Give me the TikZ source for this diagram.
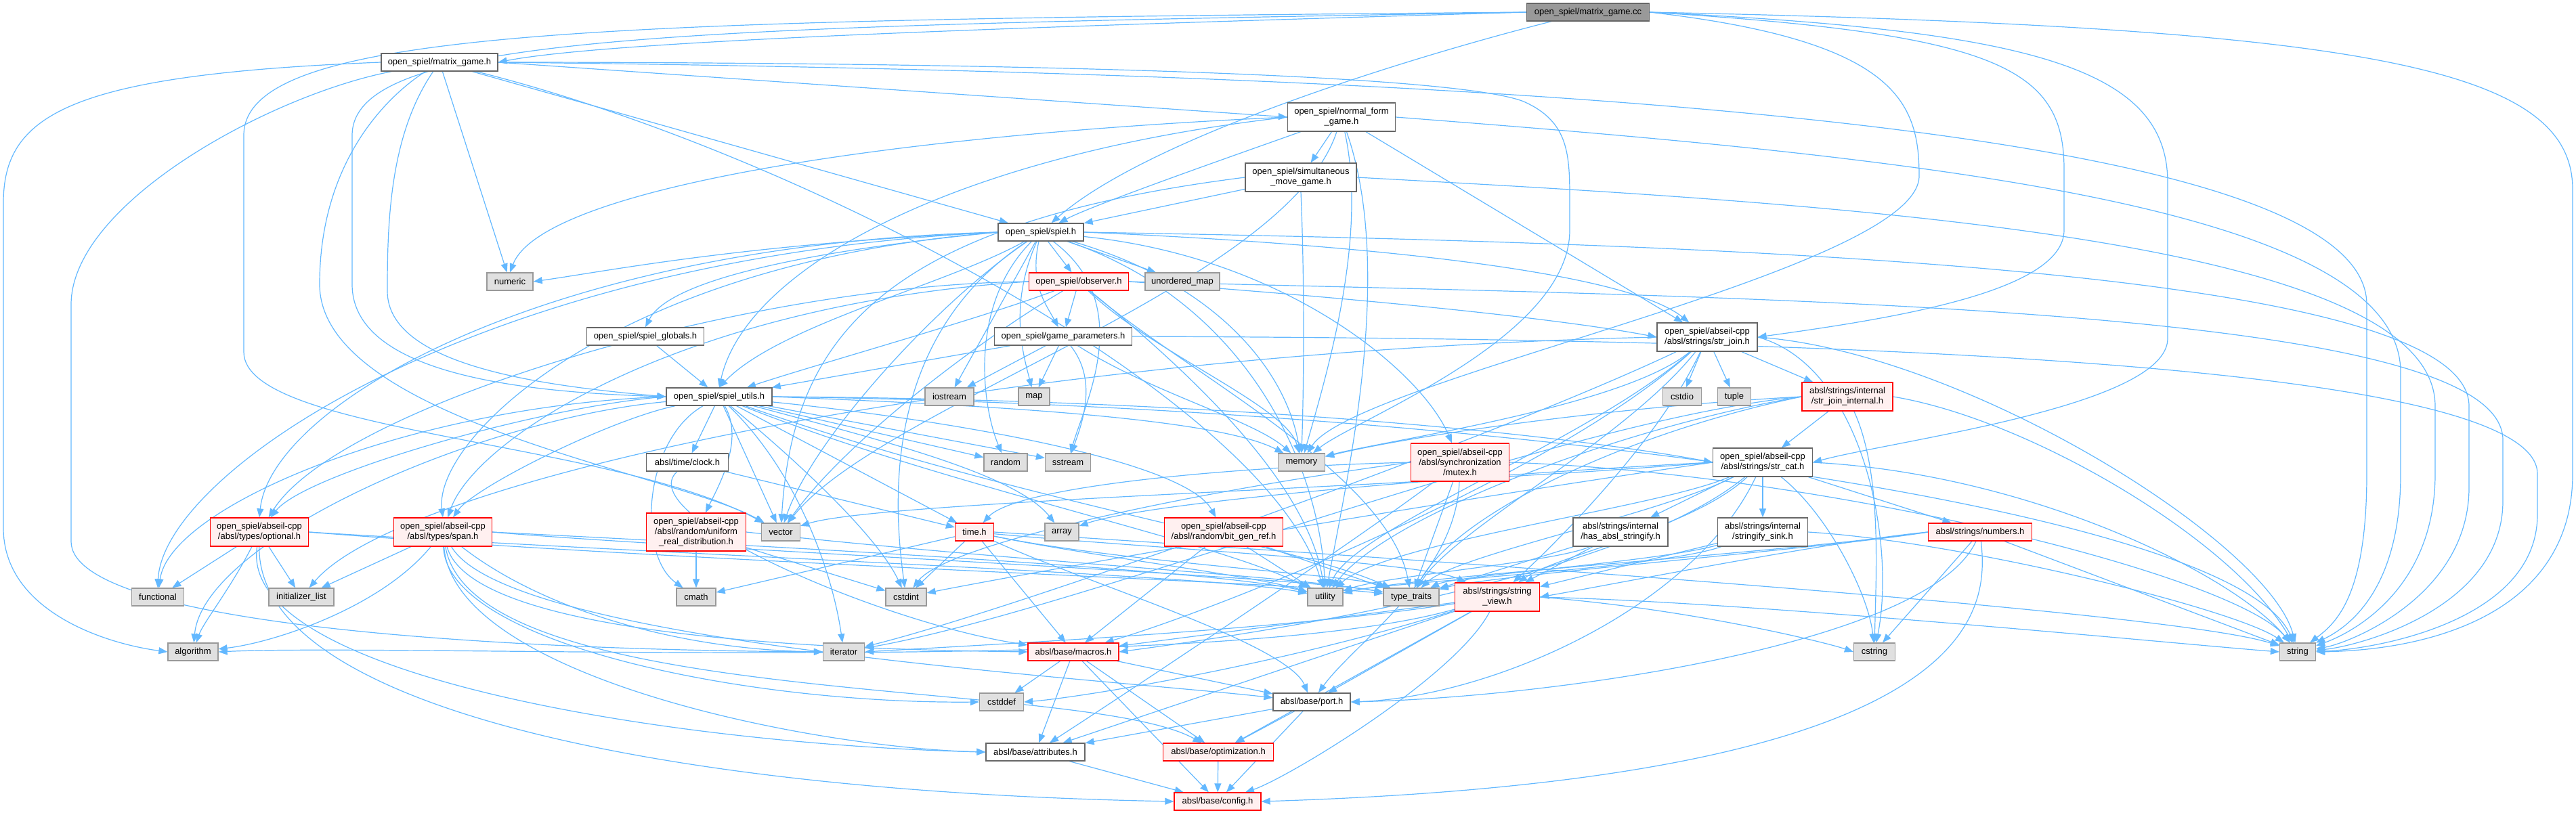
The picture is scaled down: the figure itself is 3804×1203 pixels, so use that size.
\documentclass[tikz,border=0pt]{standalone}
\usepackage{fontspec}
\setmainfont{Liberation Sans}
\usetikzlibrary{arrows.meta}
\definecolor{edgecol}{HTML}{63B8FF}
\definecolor{docborder}{HTML}{666666}
\definecolor{sysfill}{HTML}{E0E0E0}
\definecolor{sysborder}{HTML}{999999}
\definecolor{redfill}{HTML}{FFF0F0}
\definecolor{redborder}{HTML}{FF0000}
\definecolor{rootfill}{HTML}{999999}
\pgfdeclarelayer{bg}
\pgfsetlayers{bg,main}
\tikzset{
 base/.style={draw, line width=1.3pt, inner xsep=4pt, inner ysep=0pt, minimum height=26pt, align=center, font=\fontsize{13}{15}\selectfont},
 doc/.style={base, fill=white, draw=docborder},
 sys/.style={base, fill=sysfill, draw=sysborder},
 trunc/.style={base, fill=redfill, draw=redborder},
 rootnode/.style={base, fill=rootfill, draw=docborder},
 edge/.style={draw=edgecol, line width=1.2pt, -{Triangle[length=13pt,width=10pt]}},
}
\begin{document}
\begin{tikzpicture}[x=1pt,y=-1pt]
\useasboundingbox (0,0) rectangle (3804,1203);
% nodes
\node[rootnode, minimum width=181pt] (mgcc) at (2345,18) {open\_spiel/matrix\_game.cc};
\node[doc, minimum width=172pt] (mgh) at (649,92) {open\_spiel/matrix\_game.h};
\node[doc, minimum width=159pt, minimum height=42pt] (nfg) at (1981,173) {open\_spiel/normal\_form\\\_game.h};
\node[doc, minimum width=164pt, minimum height=42pt] (sim) at (1921,262) {open\_spiel/simultaneous\\\_move\_game.h};
\node[doc, minimum width=126pt] (spiel) at (1537,343) {open\_spiel/spiel.h};
\node[sys, minimum width=68pt] (numeric) at (753,416) {numeric};
\node[trunc, minimum width=147pt] (observer) at (1593,416) {open\_spiel/observer.h};
\node[sys, minimum width=110pt] (umap) at (1746,416) {unordered\_map};
\node[doc, minimum width=173pt] (globals) at (953,497) {open\_spiel/spiel\_globals.h};
\node[doc, minimum width=203pt] (gp) at (1570,497) {open\_spiel/game\_parameters.h};
\node[doc, minimum width=148pt, minimum height=42pt] (strjoin) at (2521,498) {open\_spiel/abseil-cpp\\/absl/strings/str\_join.h};
\node[doc, minimum width=156pt] (utils) at (1062,586) {open\_spiel/spiel\_utils.h};
\node[sys, minimum width=72pt] (iostream) at (1402,586) {iostream};
\node[sys, minimum width=46pt] (map) at (1527,586) {map};
\node[sys, minimum width=57pt] (cstdio) at (2484,586) {cstdio};
\node[sys, minimum width=49pt] (tuple) at (2561,586) {tuple};
\node[trunc, minimum width=134pt, minimum height=42pt] (sji) at (2728,586) {absl/strings/internal\\/str\_join\_internal.h};
\node[doc, minimum width=121pt] (clock) at (1015,683) {absl/time/clock.h};
\node[sys, minimum width=64pt] (random) at (1485,683) {random};
\node[sys, minimum width=67pt] (sstream) at (1577,683) {sstream};
\node[sys, minimum width=69pt] (memory) at (1922,683) {memory};
\node[trunc, minimum width=145pt, minimum height=56pt] (mutex) at (2156,683) {open\_spiel/abseil-cpp\\/absl/synchronization\\/mutex.h};
\node[doc, minimum width=147pt, minimum height=42pt] (strcat) at (2603,683) {open\_spiel/abseil-cpp\\/absl/strings/str\_cat.h};
\node[trunc, minimum width=145pt, minimum height=42pt] (optional) at (383,786) {open\_spiel/abseil-cpp\\/absl/types/optional.h};
\node[trunc, minimum width=145pt, minimum height=42pt] (span) at (654,786) {open\_spiel/abseil-cpp\\/absl/types/span.h};
\node[trunc, minimum width=147pt, minimum height=56pt] (uniform) at (1028,786) {open\_spiel/abseil-cpp\\/absl/random/uniform\\\_real\_distribution.h};
\node[sys, minimum width=57pt] (vector) at (1153,786) {vector};
\node[trunc, minimum width=57pt] (timeh) at (1439,786) {time.h};
\node[sys, minimum width=50pt] (array) at (1568,786) {array};
\node[trunc, minimum width=175pt, minimum height=42pt] (bitgen) at (1807,786) {open\_spiel/abseil-cpp\\/absl/random/bit\_gen\_ref.h};
\node[doc, minimum width=140pt, minimum height=42pt] (hasstr) at (2393,786) {absl/strings/internal\\/has\_absl\_stringify.h};
\node[doc, minimum width=133pt, minimum height=42pt] (sink) at (2603,786) {absl/strings/internal\\/stringify\_sink.h};
\node[trunc, minimum width=153pt] (numbers) at (2924,786) {absl/strings/numbers.h};
\node[sys, minimum width=77pt] (functional) at (233,882) {functional};
\node[sys, minimum width=96pt] (initlist) at (445,882) {initializer\_list};
\node[sys, minimum width=58pt] (cmath) at (1028,882) {cmath};
\node[sys, minimum width=60pt] (cstdint) at (1338,882) {cstdint};
\node[sys, minimum width=52pt] (utility) at (1957,882) {utility};
\node[sys, minimum width=82pt] (typetraits) at (2084,882) {type\_traits};
\node[trunc, minimum width=125pt, minimum height=42pt] (strview) at (2211,882) {absl/strings/string\\\_view.h};
\node[sys, minimum width=74pt] (algorithm) at (285,963) {algorithm};
\node[sys, minimum width=61pt] (iterator) at (1246,963) {iterator};
\node[trunc, minimum width=134pt] (macros) at (1585,963) {absl/base/macros.h};
\node[sys, minimum width=61pt] (cstring) at (2768,963) {cstring};
\node[sys, minimum width=53pt] (string) at (3393,963) {string};
\node[sys, minimum width=65pt] (cstddef) at (1479,1037) {cstddef};
\node[doc, minimum width=114pt] (port) at (1937,1037) {absl/base/port.h};
\node[doc, minimum width=146pt] (attributes) at (1529,1111) {absl/base/attributes.h};
\node[trunc, minimum width=163pt] (optim) at (1799,1111) {absl/base/optimization.h};
\node[trunc, minimum width=128pt] (config) at (1798,1184) {absl/base/config.h};
% edges
\begin{pgfonlayer}{bg}
% matrix_game.cc
\draw[edge] (mgcc.west) .. controls (1500,40) and (900,60) .. (mgh.east);
\draw[edge] (mgcc) .. controls (2100,80) and (1700,200) .. (spiel);
\draw[edge] (mgcc.west) .. controls (1000,40) and (520,50) .. (520,200) -- (520,420) .. controls (520,560) and (800,580) .. (utils.west);
\draw[edge] (mgcc.west) .. controls (900,30) and (360,40) .. (360,200) -- (360,520) .. controls (360,640) and (900,650) .. (vector);
\draw[edge] (mgcc.east) .. controls (2800,60) and (2834,150) .. (2834,260) .. controls (2834,400) and (2000,560) .. (memory);
\draw[edge] (mgcc.east) .. controls (2950,50) and (3048,100) .. (3048,250) -- (3048,340) .. controls (3048,430) and (2800,470) .. (strjoin.east);
\draw[edge] (mgcc.east) .. controls (3000,45) and (3201,100) .. (3201,270) -- (3201,500) .. controls (3201,600) and (2800,650) .. (strcat.east);
\draw[edge] (mgcc.east) .. controls (3500,40) and (3799,100) .. (3799,280) -- (3799,700) .. controls (3799,900) and (3600,960) .. (string.east);
% matrix_game.h
\draw[edge] (mgh.west) .. controls (100,110) and (5,170) .. (5,300) -- (5,780) .. controls (5,900) and (150,950) .. (algorithm.west);
\draw[edge] (mgh) .. controls (400,140) and (105,300) .. (105,450) -- (105,800) .. controls (105,920) and (700,960) .. (iterator.west);
\draw[edge] (mgh) -- (numeric);
\draw[edge] (mgh) -- (spiel);
\draw[edge] (mgh) .. controls (575,200) and (572,330) .. (572,430) .. controls (572,540) and (800,570) .. (utils.west);
\draw[edge] (mgh) .. controls (560,150) and (472,250) .. (472,420) .. controls (472,620) and (1000,700) .. (vector);
\draw[edge] (mgh.east) -- (nfg.west);
\draw[edge] (mgh.east) .. controls (1500,92) and (2150,110) .. (2250,150) .. controls (2318,180) and (2318,230) .. (2318,300) -- (2318,340) .. controls (2318,500) and (2000,620) .. (memory);
\draw[edge] (mgh.east) .. controls (2400,110) and (3495,200) .. (3495,450) -- (3495,700) .. controls (3495,880) and (3450,920) .. (string);
\draw[edge] (mgh) .. controls (1200,230) and (1880,600) .. (utility);
% normal_form_game.h
\draw[edge] (nfg) -- (sim);
\draw[edge] (nfg) .. controls (1850,220) and (1620,300) .. (spiel);
\draw[edge] (nfg.west) .. controls (1300,200) and (800,280) .. (numeric.north);
\draw[edge] (nfg.west) .. controls (1400,230) and (1100,400) .. (utils.north);
\draw[edge] (nfg) .. controls (2020,350) and (1960,550) .. (memory);
\draw[edge] (nfg) -- (strjoin);
\draw[edge] (nfg.east) .. controls (2800,230) and (3545,300) .. (3545,550) -- (3545,700) .. controls (3545,880) and (3460,930) .. (string);
\draw[edge] (nfg) .. controls (1900,420) and (1300,600) .. (vector);
\draw[edge] (nfg) .. controls (2060,400) and (1990,700) .. (utility);
% simultaneous_move_game.h
\draw[edge] (sim) -- (spiel);
\draw[edge] (sim.south) .. controls (1926,400) and (1926,550) .. (memory.north);
\draw[edge] (sim.east) .. controls (2700,300) and (3596,350) .. (3596,600) -- (3596,700) .. controls (3596,880) and (3460,940) .. (string);
\draw[edge] (sim.west) .. controls (1300,330) and (1170,500) .. (vector);
% spiel.h
\draw[edge] (spiel.west) .. controls (1100,360) and (900,400) .. (numeric.east);
\draw[edge] (spiel.west) .. controls (1100,380) and (980,430) .. (globals.north);
\draw[edge] (spiel) .. controls (1400,420) and (1150,480) .. (utils.north);
\draw[edge] (spiel.west) .. controls (800,360) and (400,600) .. (optional.north);
\draw[edge] (spiel.west) .. controls (900,390) and (640,650) .. (span.north);
\draw[edge] (spiel.west) .. controls (700,380) and (240,700) .. (functional.north);
\draw[edge] (spiel) -- (iostream);
\draw[edge] (spiel) .. controls (1490,450) and (1510,520) .. (map);
\draw[edge] (spiel) .. controls (1430,450) and (1450,600) .. (random);
\draw[edge] (spiel) .. controls (1680,450) and (1600,600) .. (sstream);
\draw[edge] (spiel) -- (observer);
\draw[edge] (spiel) -- (umap);
\draw[edge] (spiel) .. controls (1520,420) and (1545,450) .. (gp);
\draw[edge] (spiel) .. controls (1800,420) and (1900,550) .. (memory);
\draw[edge] (spiel) .. controls (1900,380) and (2100,550) .. (mutex);
\draw[edge] (spiel.east) .. controls (2000,360) and (2400,400) .. (strjoin);
\draw[edge] (spiel.east) .. controls (2600,360) and (3646,400) .. (3646,600) -- (3646,720) .. controls (3646,880) and (3470,950) .. (string);
\draw[edge] (spiel) .. controls (1850,450) and (1950,700) .. (utility);
\draw[edge] (spiel) .. controls (1380,450) and (1200,650) .. (vector);
\draw[edge] (spiel) .. controls (1300,500) and (1320,750) .. (cstdint);
% observer.h
\draw[edge] (observer) -- (gp);
\draw[edge] (observer) .. controls (1450,470) and (1200,540) .. (utils);
\draw[edge] (observer.west) .. controls (1100,420) and (500,600) .. (optional);
\draw[edge] (observer.west) .. controls (1000,450) and (700,650) .. (span);
\draw[edge] (observer) .. controls (1700,520) and (1900,600) .. (memory);
\draw[edge] (observer.east) .. controls (2600,440) and (3696,450) .. (3696,650) -- (3696,740) .. controls (3696,900) and (3480,955) .. (string);
\draw[edge] (observer.east) .. controls (2000,440) and (2300,470) .. (strjoin.west);
\draw[edge] (observer) .. controls (1720,520) and (1930,700) .. (utility);
\draw[edge] (observer) .. controls (1450,500) and (1250,650) .. (vector);
\draw[edge] (observer) .. controls (1750,550) and (2050,700) .. (typetraits);
% game_parameters.h
\draw[edge] (gp) -- (utils);
\draw[edge] (gp) -- (iostream);
\draw[edge] (gp) -- (map);
\draw[edge] (gp) .. controls (1700,580) and (1850,620) .. (memory);
\draw[edge] (gp) .. controls (1620,560) and (1600,620) .. (sstream);
\draw[edge] (gp.east) .. controls (2500,500) and (3747,520) .. (3747,700) -- (3747,760) .. controls (3747,920) and (3500,960) .. (string);
% globals
\draw[edge] (globals) -- (utils);
% spiel_utils.h
\draw[edge] (utils) -- (clock);
\draw[edge] (utils) .. controls (1100,650) and (1060,720) .. (uniform);
\draw[edge] (utils) -- (vector);
\draw[edge] (utils) -- (timeh);
\draw[edge] (utils) -- (random);
\draw[edge] (utils) -- (sstream);
\draw[edge] (utils) .. controls (1300,650) and (1500,700) .. (array);
\draw[edge] (utils.east) .. controls (1500,600) and (1800,620) .. (memory);
\draw[edge] (utils.east) .. controls (1800,590) and (2300,640) .. (strcat.west);
\draw[edge] (utils.east) .. controls (2200,600) and (3300,750) .. (string);
\draw[edge] (utils) .. controls (1400,720) and (1800,800) .. (utility);
\draw[edge] (utils) .. controls (1500,740) and (1900,800) .. (typetraits);
\draw[edge] (utils.west) .. controls (800,600) and (450,700) .. (optional);
\draw[edge] (utils) .. controls (900,620) and (700,720) .. (span);
\draw[edge] (utils.west) .. controls (600,600) and (250,750) .. (functional);
\draw[edge] (utils) .. controls (700,620) and (300,800) .. (algorithm);
\draw[edge] (utils) .. controls (1200,700) and (1300,800) .. (cstdint);
\draw[edge] (utils) .. controls (1400,620) and (1750,680) .. (bitgen);
\draw[edge] (utils) .. controls (950,650) and (940,820) .. (cmath);
\draw[edge] (utils) .. controls (1180,700) and (1230,850) .. (iterator);
% clock, uniform, time
\draw[edge] (clock) -- (timeh);
\draw[edge] (clock) .. controls (930,760) and (1300,920) .. (macros);
\draw[edge] (uniform) -- (cmath);
\draw[edge] (uniform) -- (cstdint);
\draw[edge] (uniform.east) .. controls (1500,830) and (1900,850) .. (typetraits);
\draw[edge] (timeh) -- (cmath);
\draw[edge] (timeh) -- (cstdint);
\draw[edge] (timeh) -- (macros);
\draw[edge] (timeh) .. controls (1600,820) and (1850,850) .. (utility);
\draw[edge] (timeh) .. controls (1650,830) and (2000,850) .. (typetraits);
\draw[edge] (timeh.east) .. controls (2000,820) and (3200,900) .. (string);
\draw[edge] (timeh) .. controls (1700,810) and (2100,830) .. (strview);
\draw[edge] (timeh) .. controls (1600,860) and (1900,950) .. (port);
% bit_gen_ref
\draw[edge] (bitgen) -- (macros);
\draw[edge] (bitgen) -- (utility);
\draw[edge] (bitgen) -- (typetraits);
% mutex
\draw[edge] (mutex.west) .. controls (1800,690) and (1500,720) .. (timeh);
\draw[edge] (mutex.west) .. controls (1800,720) and (1400,800) .. (cstdint);
\draw[edge] (mutex) .. controls (2000,800) and (1700,1000) .. (attributes);
\draw[edge] (mutex) .. controls (2150,850) and (2000,950) .. (port);
\draw[edge] (mutex.east) .. controls (2700,700) and (3300,850) .. (string);
\draw[edge] (mutex) -- (typetraits);
% str_join
\draw[edge] (strjoin) -- (cstdio);
\draw[edge] (strjoin) -- (tuple);
\draw[edge] (strjoin) -- (sji);
\draw[edge] (strjoin.west) .. controls (1500,520) and (600,700) .. (initlist);
\draw[edge] (strjoin) .. controls (2200,650) and (1500,900) .. (iterator);
\draw[edge] (strjoin) .. controls (2450,650) and (2300,800) .. (strview);
\draw[edge] (strjoin.east) .. controls (2900,520) and (3350,800) .. (string);
\draw[edge] (strjoin.east) .. controls (2750,540) and (2800,800) .. (cstring);
\draw[edge] (strjoin) .. controls (2300,700) and (1800,900) .. (macros);
\draw[edge] (strjoin) .. controls (2400,650) and (2150,780) .. (typetraits);
\draw[edge] (strjoin) .. controls (2350,650) and (2000,780) .. (utility);
\draw[edge] (strjoin) .. controls (2400,600) and (2050,650) .. (memory);
% str_join_internal
\draw[edge] (sji) -- (strcat);
\draw[edge] (sji) .. controls (2780,700) and (2770,850) .. (cstring);
\draw[edge] (sji.west) .. controls (2400,600) and (2100,640) .. (memory);
\draw[edge] (sji.west) .. controls (2300,620) and (1600,900) .. (iterator);
\draw[edge] (sji.east) .. controls (3000,620) and (3300,800) .. (string);
\draw[edge] (sji.west) .. controls (2400,640) and (2150,760) .. (typetraits);
\draw[edge] (sji.west) .. controls (2400,630) and (2050,760) .. (utility);
% str_cat
\draw[edge] (strcat) -- (hasstr);
\draw[edge] (strcat) -- (sink);
\draw[edge] (strcat) -- (numbers);
\draw[edge] (strcat.west) .. controls (2200,700) and (1700,740) .. (array);
\draw[edge] (strcat.west) .. controls (2100,720) and (1300,740) .. (vector);
\draw[edge] (strcat.west) .. controls (2000,760) and (1500,850) .. (cstdint);
\draw[edge] (strcat) .. controls (2700,760) and (2760,880) .. (cstring);
\draw[edge] (strcat.east) .. controls (3000,700) and (3300,850) .. (string);
\draw[edge] (strcat) .. controls (2450,760) and (2150,820) .. (typetraits);
\draw[edge] (strcat) .. controls (2450,750) and (2050,800) .. (utility);
\draw[edge] (strcat) .. controls (2500,780) and (2300,820) .. (strview);
\draw[edge] (strcat) .. controls (2500,900) and (2200,1030) .. (port.east);
\draw[edge] (strcat) .. controls (2400,850) and (1900,930) .. (macros.east);
% has_absl_stringify, stringify_sink
\draw[edge] (hasstr) -- (typetraits);
\draw[edge] (hasstr) .. controls (2300,830) and (2050,850) .. (utility);
\draw[edge] (hasstr) -- (strview);
\draw[edge] (sink) -- (strview);
\draw[edge] (sink) .. controls (2450,830) and (2150,850) .. (typetraits);
\draw[edge] (sink) .. controls (2450,840) and (2050,860) .. (utility);
\draw[edge] (sink.east) .. controls (2900,800) and (3300,900) .. (string);
% numbers
\draw[edge] (numbers.west) .. controls (2700,800) and (2400,860) .. (strview.east);
\draw[edge] (numbers) -- (cstring);
\draw[edge] (numbers) -- (string);
\draw[edge] (numbers) .. controls (2850,950) and (2300,1030) .. (port.east);
\draw[edge] (numbers) .. controls (2936,900) and (2936,1150) .. (config.east);
\draw[edge] (numbers.west) .. controls (2700,810) and (2200,850) .. (typetraits);
\draw[edge] (numbers.west) .. controls (2600,820) and (2100,850) .. (utility);
% string_view
\draw[edge] (strview) .. controls (1800,1000) and (600,950) .. (algorithm.east);
\draw[edge] (strview) .. controls (1900,930) and (1500,950) .. (iterator.east);
\draw[edge] (strview) .. controls (1900,980) and (1600,1030) .. (cstddef.east);
\draw[edge] (strview.east) .. controls (2500,900) and (2700,950) .. (cstring.west);
\draw[edge] (strview.east) .. controls (2600,890) and (3200,950) .. (string.west);
\draw[edge] (strview) -- (port);
\draw[edge] (strview) -- (macros);
\draw[edge] (strview) -- (attributes);
\draw[edge] (strview) -- (optim);
\draw[edge] (strview) .. controls (2150,1000) and (1900,1150) .. (config);
% optional
\draw[edge] (optional) -- (functional);
\draw[edge] (optional) -- (initlist);
\draw[edge] (optional) .. controls (340,870) and (300,920) .. (algorithm);
\draw[edge] (optional.east) .. controls (1000,820) and (1800,850) .. (utility);
\draw[edge] (optional.east) .. controls (1000,830) and (1900,860) .. (typetraits);
\draw[edge] (optional) .. controls (350,1000) and (1000,1100) .. (attributes.west);
\draw[edge] (optional) .. controls (380,1050) and (1000,1170) .. (config.west);
% span
\draw[edge] (span) -- (initlist);
\draw[edge] (span) .. controls (560,900) and (400,950) .. (algorithm);
\draw[edge] (span) .. controls (660,950) and (1100,1040) .. (cstddef.west);
\draw[edge] (span) .. controls (800,900) and (1000,960) .. (iterator.west);
\draw[edge] (span) .. controls (670,1000) and (1200,1105) .. (attributes.west);
\draw[edge] (span) .. controls (700,950) and (1300,960) .. (macros.west);
\draw[edge] (span) .. controls (700,1050) and (1600,1000) .. (optim);
\draw[edge] (span) .. controls (750,950) and (1600,1000) .. (port);
\draw[edge] (span.east) .. controls (1000,800) and (1800,840) .. (utility);
\draw[edge] (span.east) .. controls (1000,810) and (1900,850) .. (typetraits);
% macros, port, attributes, optimization
\draw[edge] (macros) -- (cstddef);
\draw[edge] (macros) -- (attributes);
\draw[edge] (macros) -- (config);
\draw[edge] (macros) -- (optim);
\draw[edge] (macros) -- (port);
\draw[edge] (port) -- (attributes);
\draw[edge] (port) -- (optim);
\draw[edge] (port) -- (config);
\draw[edge] (attributes) -- (config);
\draw[edge] (optim) -- (config);
\end{pgfonlayer}
\end{tikzpicture}
\end{document}
